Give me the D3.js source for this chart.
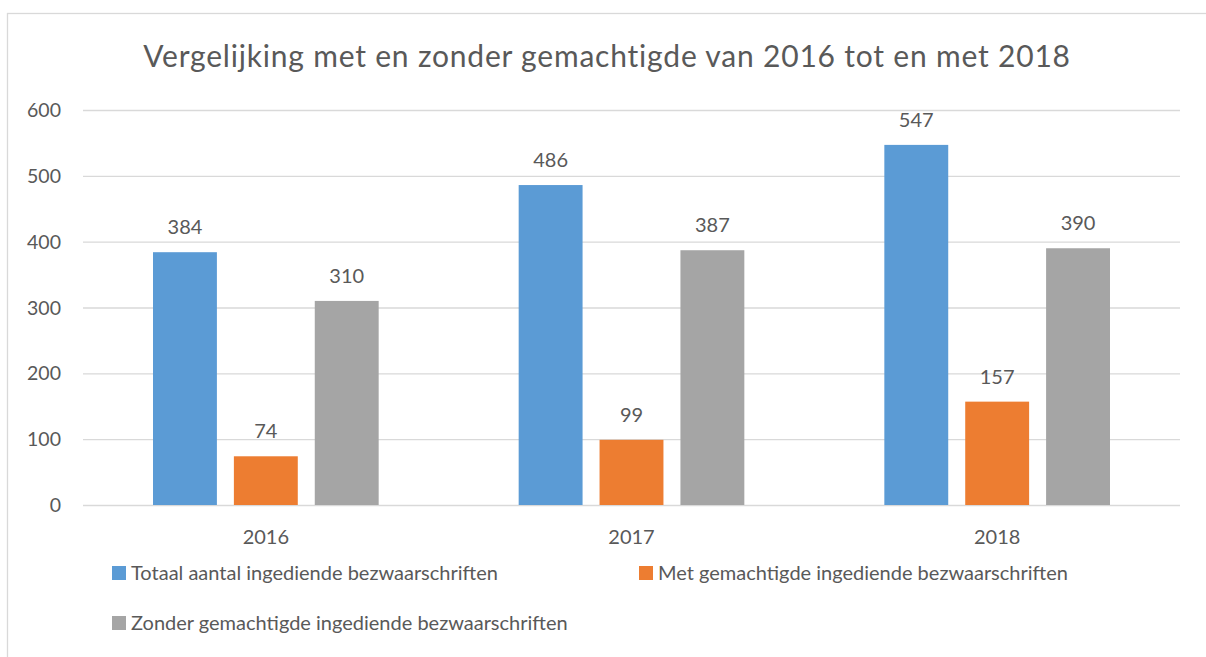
<!DOCTYPE html>
<html>
<head>
    <title>bezwaarschriften</title>
    <style>
        body {
            margin: 0;
            padding: 0;
            background: #ffffff;
            font-family: Lato, "Open Sans", sans-serif;
        }
        .grid line {
            stroke: #d9d9d9;
            stroke-width: 1.3;
        }
        .grid .domain {
            display: none;
        }
        text {
            fill: #595959;
        }
    </style>
</head>
<body>
    <svg id="chart" width="1206" height="657"></svg>

    <script src="https://d3js.org/d3.v7.min.js"></script>
    <script>
        const years = ['2016', '2017', '2018'];
        const seriesNames = [
            'Totaal aantal ingediende bezwaarschriften',
            'Met gemachtigde ingediende bezwaarschriften',
            'Zonder gemachtigde ingediende bezwaarschriften'
        ];
        const totaal = [384, 486, 547];
        const metGemachtigde = [74, 99, 157];
        const zonderGemachtigde = [310, 387, 390];
        const yTicks = [0, 100, 200, 300, 400, 500, 600];
        const colors = ['#5b9bd5', '#ed7d31', '#a5a5a5'];
        const title = 'Vergelijking met en zonder gemachtigde van 2016 tot en met 2018';

        const seriesValues = [totaal, metGemachtigde, zonderGemachtigde];

        const svg = d3.select('#chart');

        // chart area border (runs off the right and bottom of the picture)
        svg.append('rect')
            .attr('x', 7.5)
            .attr('y', 13.5)
            .attr('width', 1300)
            .attr('height', 700)
            .attr('fill', 'none')
            .attr('stroke', '#d9d9d9')
            .attr('stroke-width', 1.3);

        svg.append('text')
            .attr('x', 607)
            .attr('y', 67)
            .attr('text-anchor', 'middle')
            .style('font-size', '30px')
            .style('letter-spacing', '0.8px')
            .text(title);

        const left = 83, right = 1180;
        const y = d3.scaleLinear().domain([0, 600]).range([505, 110]);
        const x0 = d3.scaleBand().domain(years).range([left, right]);
        const x1 = d3.scaleBand().domain(d3.range(3))
            .range([70, x0.bandwidth() - 70])
            .paddingInner(0.21);

        // gridlines
        svg.append('g')
            .attr('class', 'grid')
            .attr('transform', `translate(${left},0)`)
            .call(d3.axisLeft(y).tickValues(yTicks).tickSize(-(right - left)).tickFormat(''));

        // y tick labels
        svg.append('g')
            .selectAll('text')
            .data(yTicks)
            .join('text')
            .attr('x', 61)
            .attr('y', d => y(d))
            .attr('dy', '0.36em')
            .attr('text-anchor', 'end')
            .style('font-size', '19.5px')
            .text(d => d);

        // bars
        const groups = svg.append('g')
            .selectAll('g')
            .data(years)
            .join('g')
            .attr('transform', d => `translate(${x0(d)},0)`);

        groups.selectAll('rect')
            .data((d, i) => seriesValues.map((s, k) => ({ k, v: s[i] })))
            .join('rect')
            .attr('x', d => x1(d.k))
            .attr('y', d => y(d.v))
            .attr('width', x1.bandwidth())
            .attr('height', d => y(0) - y(d.v))
            .attr('fill', d => colors[d.k]);

        groups.selectAll('text.val')
            .data((d, i) => seriesValues.map((s, k) => ({ k, v: s[i] })))
            .join('text')
            .attr('class', 'val')
            .attr('x', d => x1(d.k) + x1.bandwidth() / 2)
            .attr('y', d => y(d.v) - 18)
            .attr('text-anchor', 'middle')
            .style('font-size', '20px')
            .text(d => d.v);

        // x labels
        svg.append('g')
            .selectAll('text')
            .data(years)
            .join('text')
            .attr('x', d => x0(d) + x0.bandwidth() / 2)
            .attr('y', 544)
            .attr('text-anchor', 'middle')
            .style('font-size', '20px')
            .text(d => d);

        // legend
        const legendPos = [
            { x: 112, y: 566 },
            { x: 639, y: 566 },
            { x: 112, y: 616 }
        ];
        const legend = svg.append('g')
            .selectAll('g')
            .data(seriesNames)
            .join('g')
            .attr('transform', (d, i) => `translate(${legendPos[i].x},${legendPos[i].y})`);

        legend.append('rect')
            .attr('width', 14)
            .attr('height', 14)
            .attr('fill', (d, i) => colors[i]);

        legend.append('text')
            .attr('x', 19)
            .attr('y', 14)
            .style('font-size', '20px')
            .text(d => d);
    </script>
</body>
</html>
